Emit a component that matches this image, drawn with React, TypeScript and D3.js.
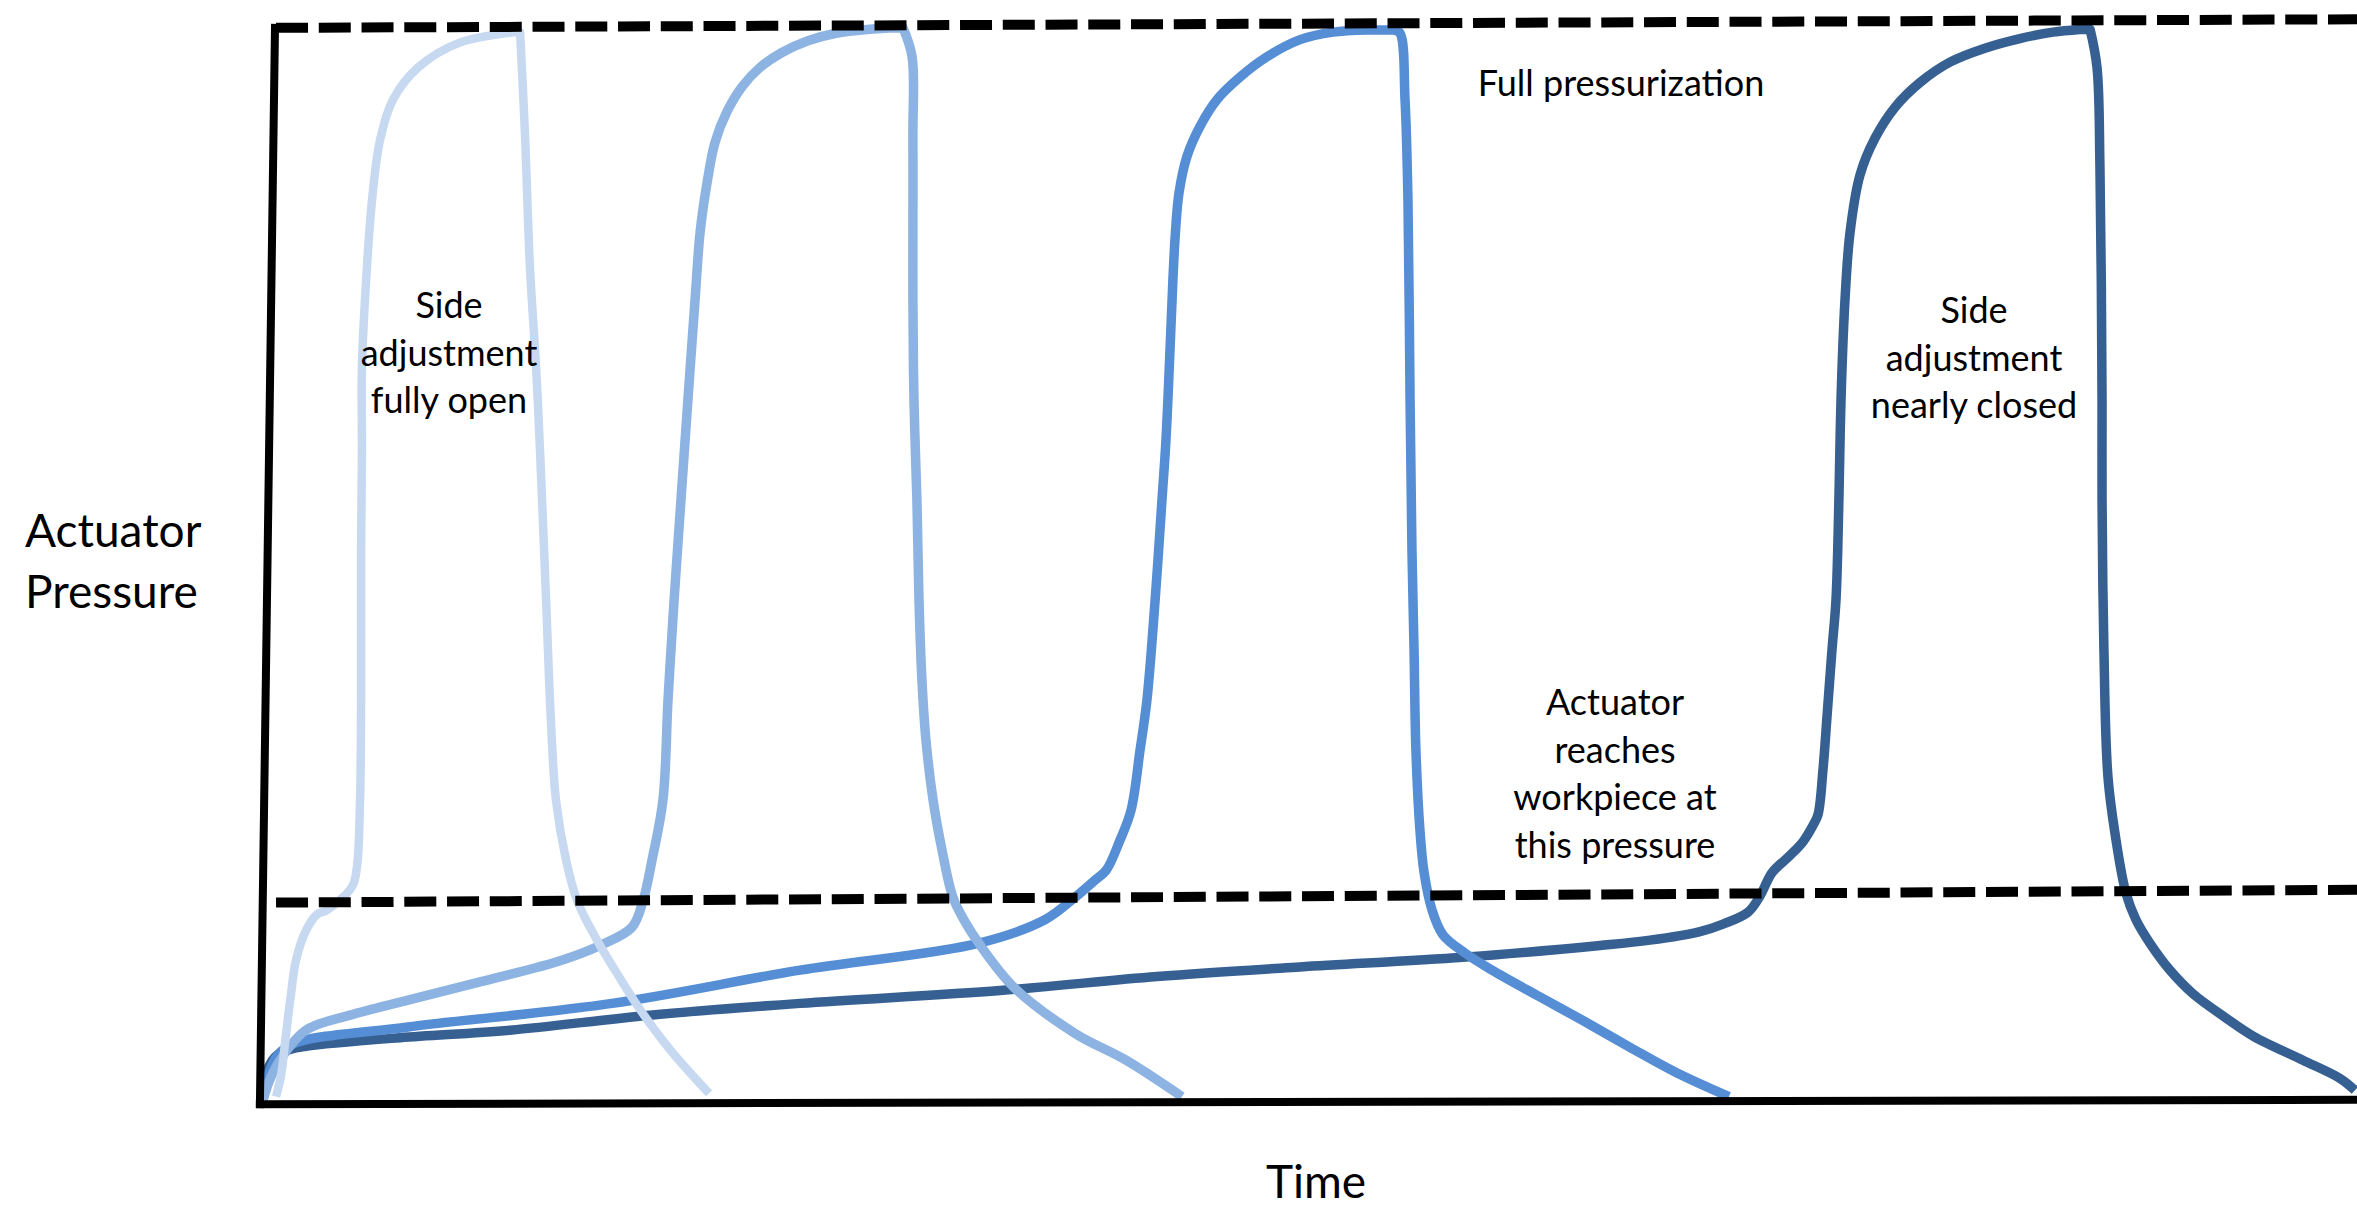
import React from "react";
import * as d3 from "d3";

// ---- Data (time in s, pressure in % of supply) ----
type Pt = [number, number];

const seriesFullyOpen: Pt[] = [
  [0.067, 0.5], [0.091, 2.5], [0.115, 6.4], [0.138, 10.0], [0.162, 13.2], [0.21, 16.0],
  [0.263, 17.5], [0.31, 17.9], [0.43, 20.1], [0.453, 21.9], [0.468, 28.2], [0.473, 37.5],
  [0.473, 51.5], [0.477, 60.8], [0.477, 68.6], [0.501, 77.9], [0.525, 84.1], [0.563, 89.7],
  [0.625, 93.5], [0.745, 96.5], [0.94, 98.8], [1.208, 99.8], [1.232, 99.8],
  [1.255, 90.4], [1.279, 77.9], [1.308, 68.6], [1.327, 60.8], [1.356, 46.8], [1.379, 35.6],
  [1.403, 28.2], [1.451, 22.6], [1.504, 18.8], [1.599, 15.1], [1.685, 12.3], [1.795, 8.9],
  [1.947, 4.9], [2.134, 0.8],
];

const seriesMostlyOpen: Pt[] = [
  [0.005, 0.2], [0.038, 2.1], [0.086, 3.9], [0.21, 6.7], [0.42, 8.1], [0.697, 9.5],
  [1.041, 11.2], [1.427, 13.2], [1.613, 14.6], [1.766, 16.3], [1.819, 18.8], [1.862, 22.6],
  [1.914, 28.2], [1.938, 37.5], [1.967, 46.8], [2.0, 56.2], [2.033, 65.5], [2.067, 74.8],
  [2.091, 81.1], [2.124, 85.7], [2.162, 89.5], [2.22, 92.4], [2.291, 94.7], [2.377, 96.5],
  [2.482, 97.9], [2.606, 99.0], [2.74, 99.7], [2.888, 100.05], [3.045, 100.2],
  [3.06, 100.2], [3.103, 97.5], [3.107, 90.4], [3.107, 81.1], [3.107, 74.8], [3.112, 65.5],
  [3.126, 56.2], [3.136, 46.8], [3.15, 39.4], [3.169, 33.8], [3.203, 28.2], [3.246, 23.5],
  [3.298, 19.1], [3.356, 16.8], [3.422, 14.8], [3.589, 10.7], [3.881, 6.4], [4.124, 3.9],
  [4.391, 0.5],
];

const seriesHalfClosed: Pt[] = [
  [0.005, 0.2], [0.029, 2.5], [0.076, 4.4], [0.158, 5.5], [0.697, 7.0], [1.671, 9.2],
  [2.568, 12.3], [3.418, 14.8], [3.737, 17.0], [3.881, 19.1], [3.976, 20.7], [4.029, 21.6],
  [4.095, 24.4], [4.148, 27.2], [4.191, 32.8], [4.224, 37.5], [4.263, 46.8], [4.296, 56.2],
  [4.315, 61.8], [4.334, 70.1], [4.348, 76.7], [4.36, 81.1], [4.377, 84.8], [4.415, 88.2],
  [4.477, 91.0], [4.558, 93.5], [4.668, 95.6], [4.797, 97.5], [4.955, 99.1], [5.112, 99.8],
  [5.274, 100], [5.403, 100],
  [5.432, 99.7], [5.456, 93.5], [5.47, 84.1], [5.48, 65.5], [5.489, 51.5], [5.499, 42.2],
  [5.508, 32.8], [5.527, 25.4], [5.547, 21.4], [5.585, 17.9], [5.637, 15.6], [5.742, 13.9],
  [5.871, 12.3], [6.1, 9.8], [6.305, 7.6], [6.53, 5.1], [6.745, 2.8], [7.002, 0.5],
];

const seriesNearlyClosed: Pt[] = [
  [0.0, 0.2], [0.01, 2.1], [0.062, 4.2], [0.134, 4.9], [0.21, 5.2], [0.659, 6.0],
  [1.184, 6.7], [1.852, 8.1], [2.568, 9.2], [3.523, 10.4], [4.272, 11.7], [4.955, 12.6],
  [5.733, 13.5], [6.387, 14.6], [6.625, 15.1], [6.864, 15.9], [6.974, 16.6], [7.093, 17.7],
  [7.15, 19.2], [7.208, 21.4], [7.294, 23.0], [7.356, 24.3], [7.403, 25.8], [7.427, 26.8],
  [7.451, 31.0], [7.47, 35.9], [7.494, 42.2], [7.513, 46.8], [7.527, 56.2], [7.537, 65.5],
  [7.556, 74.8], [7.58, 81.1], [7.628, 86.5], [7.699, 89.9], [7.795, 92.8], [7.914, 95.1],
  [8.057, 97.0], [8.224, 98.3], [8.391, 99.2], [8.549, 99.8], [8.678, 100.05],
  [8.726, 100.05], [8.759, 96.5], [8.773, 87.2], [8.783, 65.5], [8.783, 56.2],
  [8.792, 42.2], [8.811, 30.4], [8.85, 24.4], [8.897, 19.5], [8.945, 17.0], [9.012, 14.8],
  [9.107, 12.3], [9.217, 10.1], [9.37, 7.9], [9.508, 6.1], [9.742, 3.9], [9.919, 2.2],
  [9.99, 1.1],
];

const seriesColors = ["#c6d9f1", "#8db3e2", "#558ed5", "#376092"];

// reference levels (drawn as dashed lines)
const fullPressureLine: Pt[] = [[0.067, 100.2], [10, 101.0]];
const contactPressureLine: Pt[] = [[0.067, 18.6], [10, 19.8]];

// axes frame
const yAxisLine: Pt[] = [[0.062, 100.2], [-0.01, -0.2]];
const xAxisLine: Pt[] = [[-0.01, -0.2], [10, 0.2]];

const yLabelLines = ["Actuator", "Pressure"];
const xLabel = "Time";
const noteFullyOpen = ["Side", "adjustment", "fully open"];
const noteNearlyClosed = ["Side", "adjustment", "nearly closed"];
const noteWorkpiece = ["Actuator", "reaches", "workpiece at", "this pressure"];
const noteFull = "Full pressurization";

const W = 2357;
const H = 1210;
const FONT = "Lato, 'Open Sans', sans-serif";

export default function App() {
  const x = d3.scaleLinear().domain([0, 10]).range([262, 2357]);
  const y = d3.scaleLinear().domain([0, 100]).range([1102, 30]);

  const smooth = d3
    .line<Pt>()
    .x((d) => x(d[0]))
    .y((d) => y(d[1]))
    .curve(d3.curveCatmullRom.alpha(0.5));
  const straight = d3
    .line<Pt>()
    .x((d) => x(d[0]))
    .y((d) => y(d[1]));

  // split each pulse at its first peak: rising edge + falling edge, joined in one path
  const pulsePath = (pts: Pt[]) => {
    let k = 0;
    pts.forEach((p, i) => {
      if (p[1] > pts[k][1]) k = i;
    });
    const rise = pts.slice(0, k + 1);
    const fall = pts.slice(k + 1);
    const a = smooth(rise) || "";
    const b = (smooth(fall) || "").replace(/^M/, "L");
    return a + b;
  };

  const series = [seriesFullyOpen, seriesMostlyOpen, seriesHalfClosed, seriesNearlyClosed];
  const widths = [8.5, 9.5, 9.5, 9.5];
  const order = [3, 2, 1, 0];

  const noteSize = 36;
  const noteLead = 47.5;

  const multi = (lines: string[], cx: number, y0: number, key: string) =>
    lines.map((l, i) => (
      <text
        key={key + i}
        x={cx}
        y={y0 + i * noteLead}
        textAnchor="middle"
        fontSize={noteSize}
        fontFamily={FONT}
        fill="#000"
      >
        {l}
      </text>
    ));

  return (
    <svg
      width={W}
      height={H}
      viewBox={`0 0 ${W} ${H}`}
      style={{ position: "absolute", left: 0, top: 0, display: "block", background: "#fff" }}
    >
      <rect x={0} y={0} width={W} height={H} fill="#fff" />
      {order.map((i) => (
        <path
          key={"s" + i}
          d={pulsePath(series[i])}
          fill="none"
          stroke={seriesColors[i]}
          strokeWidth={widths[i]}
          strokeLinejoin="round"
          strokeLinecap="butt"
        />
      ))}
      <path
        d={straight(fullPressureLine) || ""}
        fill="none"
        stroke="#000"
        strokeWidth={10}
        strokeDasharray="32 10.75"
      />
      <path
        d={straight(contactPressureLine) || ""}
        fill="none"
        stroke="#000"
        strokeWidth={10}
        strokeDasharray="32 10.75"
      />
      <path d={straight(yAxisLine) || ""} fill="none" stroke="#000" strokeWidth={8} strokeLinecap="square" />
      <path d={straight(xAxisLine) || ""} fill="none" stroke="#000" strokeWidth={8} strokeLinecap="square" />

      {yLabelLines.map((l, i) => (
        <text key={"yl" + i} x={25} y={547 + i * 61} fontSize={46} fontFamily={FONT} fill="#000">
          {l}
        </text>
      ))}
      <text x={1316} y={1198} textAnchor="middle" fontSize={46} fontFamily={FONT} fill="#000">
        {xLabel}
      </text>
      <text x={1621} y={96} textAnchor="middle" fontSize={noteSize} fontFamily={FONT} fill="#000">
        {noteFull}
      </text>
      {multi(noteFullyOpen, 449, 318, "fo")}
      {multi(noteNearlyClosed, 1974, 323, "nc")}
      {multi(noteWorkpiece, 1615, 715, "wp")}
    </svg>
  );
}
